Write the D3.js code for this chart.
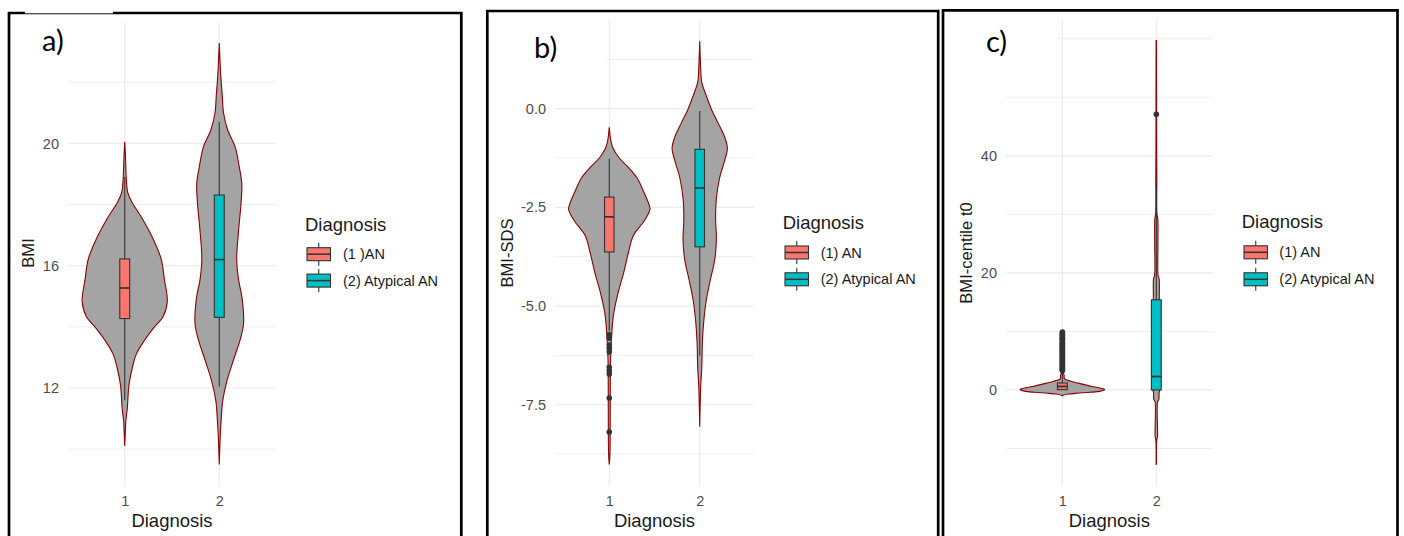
<!DOCTYPE html>
<html><head><meta charset="utf-8">
<script src="https://cdn.jsdelivr.net/npm/d3@7"></script>
<style>body{margin:0;background:#fff}svg{display:block}</style>
</head><body>
<svg id="chart" width="1404" height="536"></svg>
<script>
// ---------------- data ----------------
const categories = ["1", "2"];
const xTitle = "Diagnosis";
const legendTitle = "Diagnosis";
const legendLabelsA = ["(1 )AN", "(2) Atypical AN"];
const legendLabelsBC = ["(1) AN", "(2) Atypical AN"];
const fillColors = ["#F8766D", "#00BFC4"];
const panelLetters = ["a)", "b)", "c)"];
const yTitles = ["BMI", "BMI-SDS", "BMI-centile t0"];

// panel a: BMI  — violin profiles [value, relative density]
const bmiTicks = [12, 16, 20];
const bmiMinor = [10, 14, 18, 22];
const bmiViolin1 = [[20.05,0],[19.5,0.02],[18.9,0.035],[18.4,0.07],[18.1,0.16],[17.57,0.40],[16.9,0.66],[16.2,0.86],[15.57,0.93],[14.83,1.0],[14.33,0.90],[14.0,0.70],[13.57,0.47],[13.1,0.27],[12.67,0.18],[12.1,0.10],[11.33,0.06],[10.9,0.025],[10.5,0.012],[10.1,0]];
const bmiViolin2 = [[23.28,0],[22.23,0.035],[21.57,0.07],[21.0,0.10],[20.43,0.20],[19.9,0.37],[19.23,0.47],[18.67,0.53],[18.0,0.51],[17.1,0.45],[16.2,0.41],[15.57,0.45],[14.9,0.54],[14.1,0.57],[13.57,0.49],[12.9,0.33],[12.23,0.18],[11.57,0.08],[11.0,0.047],[10.43,0.023],[9.5,0]];
const bmiBox1 = [11.6, 14.27, 15.27, 16.22, 18.9];   // lower whisker, Q1, median, Q3, upper whisker
const bmiBox2 = [12.05, 14.31, 16.2, 18.31, 20.7];
const bmiOut1 = [];
const bmiOut2 = [];

// panel b: BMI-SDS
const sdsTicks = [-7.5, -5.0, -2.5, 0.0];
const sdsMinor = [-8.75, -6.25, -3.75, -1.25, 1.25];
const sdsViolin1 = [[-0.47,0],[-0.8,0.037],[-0.97,0.08],[-1.23,0.23],[-1.49,0.47],[-1.75,0.68],[-2.09,0.84],[-2.44,0.98],[-2.55,1.0],[-2.66,0.96],[-2.87,0.84],[-3.22,0.59],[-3.65,0.47],[-4.17,0.35],[-4.69,0.21],[-5.21,0.105],[-5.64,0.066],[-6.33,0.032],[-7.63,0.024],[-8.75,0.017],[-9.01,0]];
const sdsViolin2 = [[1.71,0],[1.02,0.024],[0.67,0.049],[0.33,0.16],[-0.02,0.29],[-0.36,0.45],[-0.71,0.61],[-1.01,0.68],[-1.32,0.61],[-1.75,0.49],[-2.27,0.41],[-2.79,0.39],[-3.30,0.41],[-3.82,0.37],[-4.34,0.26],[-4.86,0.16],[-5.38,0.10],[-5.90,0.066],[-6.59,0.049],[-7.03,0.024],[-8.06,0]];
const sdsBox1 = [-5.64, -3.63, -2.74, -2.24, -1.27];
const sdsBox2 = [-6.25, -3.50, -2.01, -1.03, -0.06];
const sdsOut1 = [-5.73, -5.81, -5.99, -6.07, -6.16, -6.55, -6.64, -6.72, -7.33, -8.19];
const sdsOut2 = [];

// panel c: BMI-centile t0
const cenTicks = [0, 20, 40];
const cenGrid = [0, 20, 40, 60];
const cenMinor = [-10, 10, 30, 50];
const cenViolin1 = [[3.6,0],[2.9,0.01],[2.6,0.04],[1.9,0.05],[1.5,0.2],[1.0,0.47],[0.6,0.7],[0.25,0.94],[0.05,1.0],[-0.2,0.9],[-0.4,0.66],[-0.55,0.35],[-0.7,0.14],[-0.9,0.02],[-1.0,0]];
const cenViolin2 = [[59.7,0.005],[50,0.007],[40,0.009],[36,0.012],[30,0.016],[29.3,0.035],[25,0.038],[19.5,0.042],[19,0.066],[16,0.07],[10,0.078],[5,0.082],[0,0.082],[-0.5,0.066],[-1.6,0.061],[-2,0.03],[-8,0.028],[-8.5,0.012],[-12.7,0.005]];
const cenBox1 = [0, 0.05, 0.6, 1.2, 2.9];
const cenBox2 = [0, 0, 2.3, 15.4, 35.6];
const cenOut1 = [3.3,3.5,3.6,3.8,4.0,4.1,4.3,4.5,4.7,4.8,5.0,5.2,5.4,5.5,5.7,5.9,6.1,6.3,6.4,6.6,6.8,7.0,7.1,7.3,7.5,7.7,7.9,8.0,8.2,8.4,8.6,8.8,8.9,9.1,9.3,9.5,9.7,9.9];
const cenOut2 = [47.1];

// ---------------- layout ----------------
const FONT = "'Liberation Sans', Arial, sans-serif";
const svg = d3.select("#chart");

const panels = [
  { letter: panelLetters[0], yTitle: yTitles[0], labels: legendLabelsA,
    violins: [bmiViolin1, bmiViolin2], boxes: [bmiBox1, bmiBox2], outliers: [bmiOut1, bmiOut2],
    ticks: bmiTicks, grid: bmiTicks, minor: bmiMinor, fmt: d3.format("d"),
    x0: 68, x1: 276, top: 22, bottom: 485.5,
    border: [9, 13, 461.3], yTitleX: 28.3, letterX: 42, letterY: 51,
    cover: [25, 9, 88, 4.3],
    legX: 305, legTitleY: 230.7, keyX: 307, keyYs: [254.2, 280.6], labX: 343 },
  { letter: panelLetters[1], yTitle: yTitles[1], labels: legendLabelsBC,
    violins: [sdsViolin1, sdsViolin2], boxes: [sdsBox1, sdsBox2], outliers: [sdsOut1, sdsOut2],
    ticks: sdsTicks, grid: sdsTicks, minor: sdsMinor, fmt: v => v.toFixed(1),
    x0: 555, x1: 754, top: 20, bottom: 485.5,
    border: [487.3, 11, 938.2], yTitleX: 506.7, letterX: 534, letterY: 58,
    cover: [530, 28, 74.5, 38],
    legX: 782.7, legTitleY: 229, keyX: 785, keyYs: [252.5, 279.3], labX: 820.7 },
  { letter: panelLetters[2], yTitle: yTitles[2], labels: legendLabelsBC,
    violins: [cenViolin1, cenViolin2], boxes: [cenBox1, cenBox2], outliers: [cenOut1, cenOut2],
    ticks: cenTicks, grid: cenGrid, minor: cenMinor, fmt: d3.format("d"),
    x0: 1006, x1: 1212.7, top: 19.3, bottom: 485.5,
    border: [943, 10.3, 1397.5], yTitleX: 966, letterX: 986, letterY: 51.5,
    cover: [975, 24, 81.5, 36],
    legX: 1241.7, legTitleY: 228, keyX: 1244, keyYs: [252.3, 279.3], labX: 1279.3 }
];

function drawPanel(p) {
  const g = svg.append("g");
  const x = d3.scaleLinear().domain([0.4, 2.6]).range([p.x0, p.x1]);
  const vals = p.violins.flat().map(d => d[0]).concat(p.outliers.flat());
  const [mn, mx] = d3.extent(vals);
  const pad = (mx - mn) * 0.05;
  const y = d3.scaleLinear().domain([mn - pad, mx + pad]).range([p.bottom, p.top]);
  const step = x(2) - x(1);
  const w = d3.scaleLinear().domain([0, 1]).range([0, step * 0.45]);
  const boxW = step * 0.105;

  // grid
  g.selectAll(".minor").data(p.minor.filter(v => y(v) >= p.top && y(v) <= p.bottom)).join("line")
    .attr("x1", p.x0).attr("x2", p.x1).attr("y1", d => y(d)).attr("y2", d => y(d))
    .attr("stroke", "#ececec").attr("stroke-width", 0.9);
  g.selectAll(".major").data(p.grid).join("line")
    .attr("x1", p.x0).attr("x2", p.x1).attr("y1", d => y(d)).attr("y2", d => y(d))
    .attr("stroke", "#ebebeb").attr("stroke-width", 1.2);
  g.selectAll(".vgrid").data([1, 2]).join("line")
    .attr("x1", d => x(d)).attr("x2", d => x(d)).attr("y1", p.top).attr("y2", p.bottom)
    .attr("stroke", "#ebebeb").attr("stroke-width", 1.2);

  // violins
  p.violins.forEach((v, i) => {
    const cx = x(i + 1);
    const area = d3.area().curve(d3.curveCatmullRom.alpha(0.5))
      .y(d => y(d[0])).x0(d => cx - w(d[1])).x1(d => cx + w(d[1]));
    g.append("path").datum(v).attr("d", area)
      .attr("fill", "#a4a4a4").attr("stroke", "#8b0000").attr("stroke-width", 1.1);
  });

  // boxplots
  p.boxes.forEach((b, i) => {
    const cx = x(i + 1);
    const [lo, q1, med, q3, hi] = b;
    g.append("line").attr("x1", cx).attr("x2", cx).attr("y1", y(hi)).attr("y2", y(q3))
      .attr("stroke", "#333").attr("stroke-width", 1.1);
    g.append("line").attr("x1", cx).attr("x2", cx).attr("y1", y(q1)).attr("y2", y(lo))
      .attr("stroke", "#333").attr("stroke-width", 1.1);
    g.append("rect").attr("x", cx - boxW / 2).attr("width", boxW)
      .attr("y", y(q3)).attr("height", Math.max(0.5, y(q1) - y(q3)))
      .attr("fill", fillColors[i]).attr("stroke", "#333").attr("stroke-width", 1.1);
    g.append("line").attr("x1", cx - boxW / 2).attr("x2", cx + boxW / 2).attr("y1", y(med)).attr("y2", y(med))
      .attr("stroke", "#333").attr("stroke-width", 1.7);
    g.selectAll(null).data(p.outliers[i]).join("circle")
      .attr("cx", cx).attr("cy", d => y(d)).attr("r", 2.8).attr("fill", "#333");
  });

  // y axis
  const ya = g.append("g").attr("transform", `translate(${p.x0},0)`)
    .call(d3.axisLeft(y).tickValues(p.ticks).tickSize(0).tickPadding(9).tickFormat(p.fmt));
  ya.select(".domain").remove();
  ya.selectAll("text").attr("font-family", FONT).attr("font-size", 14.5).attr("fill", "#4d4d4d");

  // x axis
  const xa = g.append("g").attr("transform", `translate(0,${p.bottom})`)
    .call(d3.axisBottom(x).tickValues([1, 2]).tickSize(0).tickPadding(10.4).tickFormat(d => categories[d - 1]));
  xa.select(".domain").remove();
  xa.selectAll("text").attr("font-family", FONT).attr("font-size", 14.5).attr("fill", "#4d4d4d");

  // titles
  g.append("text").attr("x", (p.x0 + p.x1) / 2).attr("y", 527.3).attr("text-anchor", "middle")
    .attr("font-family", FONT).attr("font-size", 18.5).attr("fill", "#1a1a1a").text(xTitle);
  g.append("text").attr("transform", `translate(${p.yTitleX},253) rotate(-90)`)
    .attr("text-anchor", "middle").attr("dy", "0.35em")
    .attr("font-family", FONT).attr("font-size", 16.6).attr("fill", "#1a1a1a").text(p.yTitle);

  // legend
  const lg = g.append("g");
  lg.append("text").attr("x", p.legX).attr("y", p.legTitleY)
    .attr("font-family", FONT).attr("font-size", 18.5).attr("fill", "#1a1a1a").text(legendTitle);
  p.keyYs.forEach((ky, i) => {
    const kw = 23.5, kh = 13, kcx = p.keyX + kw / 2;
    lg.append("line").attr("x1", kcx).attr("x2", kcx).attr("y1", ky - 11.5).attr("y2", ky + 11.5)
      .attr("stroke", "#333").attr("stroke-width", 1.1);
    lg.append("rect").attr("x", p.keyX).attr("y", ky - kh / 2).attr("width", kw).attr("height", kh)
      .attr("fill", fillColors[i]).attr("stroke", "#333").attr("stroke-width", 1.1);
    lg.append("line").attr("x1", p.keyX).attr("x2", p.keyX + kw).attr("y1", ky).attr("y2", ky)
      .attr("stroke", "#333").attr("stroke-width", 1.5);
    lg.append("text").attr("x", p.labX).attr("y", ky).attr("dy", "0.35em")
      .attr("font-family", FONT).attr("font-size", 14.5).attr("fill", "#1a1a1a").text(p.labels[i]);
  });

  // border
  g.append("path")
    .attr("d", `M${p.border[0]},560 V${p.border[1]} H${p.border[2]} V560`)
    .attr("fill", "none").attr("stroke", "#000").attr("stroke-width", 2.7);

  // white text box of the panel letter
  g.append("rect").attr("x", p.cover[0]).attr("y", p.cover[1]).attr("width", p.cover[2]).attr("height", p.cover[3])
    .attr("fill", "#fff");
  g.append("text").attr("x", p.letterX).attr("y", p.letterY)
    .attr("font-family", "Lato, 'Open Sans', sans-serif").attr("font-size", 29).attr("fill", "#000").text(p.letter);
}

panels.forEach(drawPanel);
</script>
</body></html>
